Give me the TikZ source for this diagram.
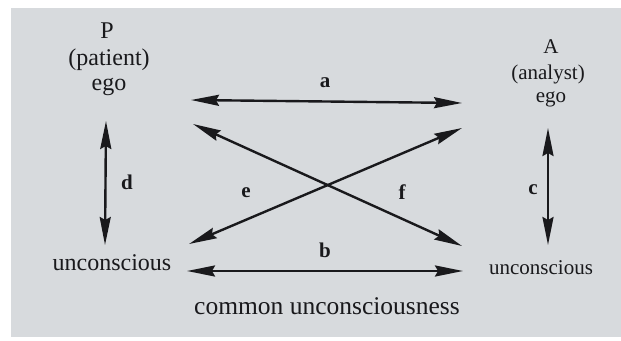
\documentclass[tikz,border=0pt]{standalone}
\usepackage{fontspec}
\setmainfont{Liberation Serif}
\usetikzlibrary{arrows.meta}
\definecolor{paper}{RGB}{215,218,221}
\definecolor{ink}{RGB}{25,25,28}
\begin{document}
\begin{tikzpicture}[x=1pt,y=-1pt,
  txt/.style={text=ink, inner sep=0pt, text height=0.7em, text depth=0.2em},
  lefttxt/.style={txt, font=\fontsize{24}{26}\selectfont},
  righttxt/.style={txt, font=\fontsize{21}{24}\selectfont},
  commontxt/.style={txt, font=\fontsize{25.5}{28}\selectfont},
  letter/.style={txt, font=\fontsize{21}{23}\selectfont\bfseries},
  tip/.tip={Stealth[length=28pt,width=11pt,inset=3pt]},
  dbl/.style={draw=ink, line width=2.4pt, tip-tip}
]
\useasboundingbox (0,0) rectangle (621,340);
\fill[white] (0,0) rectangle (621,340);
\fill[paper] (11,8) rectangle (621,337);

% left texts
\node[lefttxt] (P) at (107,36) {P};
\node[lefttxt] (patient) at (109,63) {(patient)};
\node[lefttxt] (egoL) at (109,88) {ego};
\node[lefttxt] (uncL) at (112,268) {unconscious};
% right texts
\node[righttxt] (A) at (551,51) {A};
\node[righttxt] (analyst) at (548,77) {(analyst)};
\node[righttxt] (egoR) at (551,100) {ego};
\node[righttxt] (uncR) at (541,272) {unconscious};
% bottom
\node[commontxt] (common) at (327,312) {common unconsciousness};

% arrow end points
\coordinate (aL) at (191,100);
\coordinate (aR) at (462,103);
\coordinate (bL) at (187,271);
\coordinate (bR) at (463,271);
\coordinate (eL) at (189,244);
\coordinate (eR) at (462,128);
\coordinate (fL) at (193,124);
\coordinate (fR) at (462,246);
\coordinate (dT) at (106,121);
\coordinate (dB) at (105,245);
\coordinate (cT) at (548,128);
\coordinate (cB) at (548,245);

\draw[dbl] (aL) -- (aR);
\draw[dbl] (bL) -- (bR);
\draw[dbl] (eL) -- (eR);
\draw[dbl] (fL) -- (fR);
\draw[dbl] (dT) -- (dB);
\draw[dbl] (cT) -- (cB);

% letters
\node[letter] (la) at (325,85) {a};
\node[letter] (lb) at (325,255) {b};
\node[letter] (lc) at (533,192) {c};
\node[letter] (ld) at (127,187) {d};
\node[letter] (le) at (246,195) {e};
\node[letter] (lf) at (402,197) {f};
\end{tikzpicture}
\end{document}
